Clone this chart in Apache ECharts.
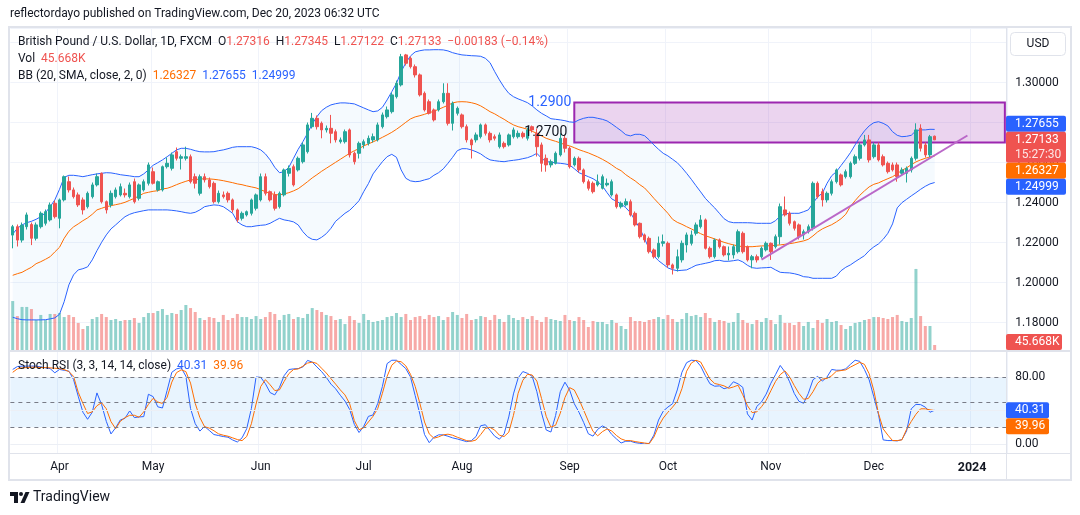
<!DOCTYPE html>
<html><head><meta charset="utf-8">
<script src="https://cdn.jsdelivr.net/npm/echarts@6/dist/echarts.min.js"></script>
<style>html,body{margin:0;padding:0;background:#fff;}#c{width:1080px;height:515px;}</style>
</head><body><div id="c"></div>
<script>
// ---------------- DATA ----------------
const firstDate = '2023-03-20';
const futureSlots = 15;
const opens = [1.2237,1.2279,1.2212,1.2279,1.2290,1.2221,1.2279,1.2296,1.2313,1.2396,
1.2321,1.2413,1.2504,1.2463,1.2438,1.2413,1.2379,1.2429,1.2488,1.2546,
1.2404,1.2388,1.2429,1.2438,1.2446,1.2429,1.2504,1.2421,1.2463,1.2496,
1.2554,1.2463,1.2463,1.2579,1.2571,1.2654,1.2621,1.2621,1.2629,1.2529,
1.2446,1.2529,1.2513,1.2496,1.2404,1.2438,1.2446,1.2413,1.2363,1.2321,
1.2338,1.2346,1.2371,1.2413,1.2529,1.2454,1.2438,1.2379,1.2438,1.2546,
1.2579,1.2563,1.2604,1.2654,1.2779,1.2821,1.2796,1.2763,1.2771,1.2754,
1.2704,1.2704,1.2763,1.2646,1.2646,1.2688,1.2696,1.2713,1.2713,1.2779,
1.2829,1.2854,1.2929,1.2988,1.3138,1.3121,1.3079,1.3038,1.2946,1.2904,
1.2863,1.2863,1.2904,1.2946,1.2796,1.2846,1.2838,1.2779,1.2713,1.2713,
1.2729,1.2788,1.2746,1.2729,1.2679,1.2696,1.2688,1.2729,1.2729,1.2746,
1.2721,1.2779,1.2746,1.2688,1.2621,1.2588,1.2596,1.2638,1.2721,1.2671,
1.2588,1.2621,1.2563,1.2504,1.2496,1.2488,1.2471,1.2488,1.2438,1.2438,
1.2379,1.2388,1.2404,1.2346,1.2296,1.2238,1.2221,1.2163,1.2129,1.2196,
1.2196,1.2088,1.2071,1.2113,1.2188,1.2196,1.2246,1.2279,1.2313,1.2171,
1.2129,1.2213,1.2179,1.2138,1.2138,1.2154,1.2246,1.2179,1.2113,1.2129,
1.2129,1.2163,1.2196,1.2179,1.2229,1.2363,1.2346,1.2304,1.2288,1.2238,
1.2254,1.2271,1.2496,1.2454,1.2413,1.2446,1.2504,1.2538,1.2529,1.2529,
1.2596,1.2621,1.2688,1.2713,1.2629,1.2688,1.2629,1.2596,1.2588,1.2588,
1.2546,1.2546,1.2563,1.2621,1.2771,1.2688,1.2638,1.27316];
const highs = [1.2288,1.2290,1.2300,1.2350,1.2300,1.2300,1.2355,1.2365,1.2400,1.2410,
1.2420,1.2535,1.2530,1.2475,1.2450,1.2425,1.2455,1.2500,1.2545,1.2550,
1.2410,1.2460,1.2475,1.2495,1.2470,1.2500,1.2520,1.2495,1.2515,1.2600,
1.2575,1.2510,1.2585,1.2625,1.2650,1.2675,1.2640,1.2679,1.2640,1.2545,
1.2540,1.2545,1.2525,1.2505,1.2460,1.2455,1.2455,1.2420,1.2370,1.2355,
1.2360,1.2420,1.2445,1.2545,1.2545,1.2460,1.2455,1.2455,1.2570,1.2585,
1.2590,1.2630,1.2700,1.2800,1.2848,1.2835,1.2805,1.2785,1.2838,1.2765,
1.2725,1.2765,1.2770,1.2655,1.2705,1.2715,1.2735,1.2745,1.2800,1.2850,
1.2880,1.2950,1.3010,1.3143,1.3143,1.3130,1.3090,1.3045,1.2955,1.2915,
1.2870,1.2915,1.2996,1.2996,1.2905,1.2880,1.2845,1.2790,1.2720,1.2750,
1.2795,1.2795,1.2755,1.2740,1.2750,1.2705,1.2745,1.2775,1.2760,1.2755,
1.2775,1.2785,1.2770,1.2700,1.2640,1.2615,1.2655,1.2746,1.2735,1.2680,
1.2630,1.2630,1.2570,1.2515,1.2505,1.2540,1.2540,1.2520,1.2515,1.2445,
1.2405,1.2420,1.2415,1.2355,1.2300,1.2245,1.2230,1.2170,1.2230,1.2240,
1.2205,1.2095,1.2165,1.2210,1.2250,1.2260,1.2300,1.2337,1.2320,1.2180,
1.2220,1.2220,1.2185,1.2180,1.2190,1.2265,1.2255,1.2185,1.2138,1.2140,
1.2180,1.2205,1.2200,1.2240,1.2395,1.2430,1.2355,1.2310,1.2295,1.2265,
1.2290,1.2505,1.2505,1.2470,1.2455,1.2515,1.2570,1.2545,1.2565,1.2605,
1.2640,1.2700,1.2738,1.2738,1.2700,1.2700,1.2640,1.2605,1.2600,1.2600,
1.2575,1.2580,1.2630,1.2796,1.2791,1.2700,1.2738,1.27345];
const lows = [1.2171,1.2180,1.2200,1.2265,1.2187,1.2210,1.2270,1.2285,1.2305,1.2320,
1.2271,1.2405,1.2450,1.2420,1.2378,1.2340,1.2370,1.2420,1.2480,1.2395,
1.2345,1.2375,1.2420,1.2430,1.2425,1.2420,1.2395,1.2410,1.2455,1.2485,
1.2490,1.2455,1.2455,1.2570,1.2560,1.2610,1.2565,1.2610,1.2495,1.2470,
1.2435,1.2500,1.2470,1.2395,1.2395,1.2420,1.2400,1.2350,1.2300,1.2310,
1.2330,1.2335,1.2360,1.2405,1.2435,1.2405,1.2360,1.2370,1.2430,1.2530,
1.2480,1.2555,1.2595,1.2645,1.2770,1.2765,1.2721,1.2750,1.2696,1.2700,
1.2695,1.2695,1.2625,1.2590,1.2620,1.2670,1.2685,1.2700,1.2705,1.2770,
1.2820,1.2845,1.2920,1.2980,1.3085,1.3070,1.3025,1.2930,1.2855,1.2840,
1.2805,1.2855,1.2895,1.2785,1.2760,1.2835,1.2770,1.2700,1.2620,1.2700,
1.2720,1.2735,1.2700,1.2710,1.2670,1.2670,1.2680,1.2720,1.2720,1.2720,
1.2710,1.2750,1.2630,1.2554,1.2554,1.2575,1.2590,1.2630,1.2650,1.2570,
1.2580,1.2550,1.2495,1.2460,1.2445,1.2480,1.2465,1.2480,1.2430,1.2370,
1.2370,1.2380,1.2330,1.2280,1.2220,1.2200,1.2145,1.2120,1.2120,1.2180,
1.2075,1.2040,1.2055,1.2100,1.2150,1.2185,1.2235,1.2270,1.2165,1.2120,
1.2120,1.2170,1.2130,1.2110,1.2120,1.2145,1.2145,1.2105,1.2071,1.2100,
1.2120,1.2155,1.2113,1.2170,1.2190,1.2330,1.2285,1.2260,1.2215,1.2215,
1.2245,1.2260,1.2420,1.2380,1.2400,1.2435,1.2495,1.2480,1.2520,1.2520,
1.2588,1.2610,1.2680,1.2600,1.2620,1.2605,1.2580,1.2545,1.2555,1.2504,
1.2535,1.2500,1.2550,1.2610,1.2655,1.2625,1.2625,1.27122];
const closes = [1.2279,1.2212,1.2287,1.2338,1.2221,1.2288,1.2346,1.2354,1.2388,1.2329,
1.2413,1.2529,1.2463,1.2429,1.2388,1.2363,1.2446,1.2488,1.2529,1.2404,
1.2363,1.2446,1.2463,1.2479,1.2438,1.2488,1.2404,1.2488,1.2504,1.2588,
1.2496,1.2504,1.2579,1.2596,1.2638,1.2621,1.2629,1.2629,1.2504,1.2496,
1.2529,1.2513,1.2479,1.2404,1.2446,1.2429,1.2413,1.2363,1.2313,1.2346,
1.2354,1.2413,1.2438,1.2529,1.2446,1.2413,1.2371,1.2446,1.2563,1.2571,
1.2488,1.2621,1.2688,1.2788,1.2821,1.2779,1.2763,1.2771,1.2746,1.2713,
1.2713,1.2754,1.2638,1.2604,1.2696,1.2704,1.2721,1.2729,1.2788,1.2838,
1.2863,1.2938,1.2996,1.3129,1.3096,1.3079,1.3038,1.2938,1.2863,1.2846,
1.2813,1.2904,1.2946,1.2796,1.2896,1.2871,1.2779,1.2713,1.2688,1.2738,
1.2788,1.2746,1.2713,1.2721,1.2738,1.2679,1.2738,1.2763,1.2746,1.2729,
1.2763,1.2763,1.2679,1.2596,1.2588,1.2604,1.2646,1.2721,1.2671,1.2579,
1.2621,1.2563,1.2504,1.2471,1.2454,1.2504,1.2529,1.2496,1.2504,1.2379,
1.2396,1.2404,1.2338,1.2288,1.2229,1.2213,1.2154,1.2129,1.2196,1.2204,
1.2088,1.2071,1.2129,1.2196,1.2238,1.2238,1.2288,1.2313,1.2171,1.2129,
1.2213,1.2179,1.2138,1.2146,1.2179,1.2254,1.2154,1.2113,1.2129,1.2113,
1.2171,1.2196,1.2154,1.2229,1.2379,1.2338,1.2296,1.2271,1.2229,1.2254,
1.2279,1.2496,1.2429,1.2413,1.2446,1.2504,1.2563,1.2488,1.2554,1.2596,
1.2629,1.2688,1.2713,1.2613,1.2688,1.2613,1.2588,1.2554,1.2563,1.2529,
1.2563,1.2571,1.2621,1.2763,1.2671,1.2638,1.2729,1.27133];
const volumesK = [447,310,393,393,374,274,320,274,329,329,
338,301,320,301,247,192,219,283,301,329,
301,274,283,265,274,274,292,247,301,338,
338,356,374,320,338,329,365,411,383,347,
292,274,301,292,256,320,274,292,329,301,
301,283,310,283,301,347,329,274,320,329,
283,301,292,329,383,365,347,320,310,274,
283,237,310,274,247,329,274,256,265,274,
301,310,338,301,329,274,301,310,283,320,
301,310,274,301,347,320,292,329,274,283,
310,301,274,320,283,256,320,292,274,301,
283,310,274,256,301,283,274,265,320,274,
265,301,274,210,265,256,256,237,274,247,
219,192,301,265,265,256,274,283,301,283,
320,283,256,283,338,310,320,301,338,292,
256,274,265,247,256,338,274,247,237,274,
256,292,274,237,320,247,247,228,256,219,
256,201,274,247,283,256,265,228,192,219,
247,256,274,283,301,301,292,283,301,320,
265,256,292,740,310,219,219,45.668];
const bbUpper = [1.2242,1.2271,1.2288,1.2299,1.2306,1.2316,1.2329,1.2349,1.2379,1.2413,
1.2466,1.2526,1.2536,1.2536,1.2533,1.2529,1.2534,1.2539,1.2543,1.2546,
1.2549,1.2548,1.2544,1.2539,1.2536,1.2533,1.2529,1.2529,1.2543,1.2563,
1.2586,1.2599,1.2613,1.2629,1.2646,1.2663,1.2671,1.2671,1.2666,1.2659,
1.2654,1.2653,1.2653,1.2654,1.2659,1.2663,1.2669,1.2676,1.2679,1.2679,
1.2679,1.2679,1.2673,1.2663,1.2643,1.2613,1.2576,1.2549,1.2554,1.2576,
1.2621,1.2666,1.2704,1.2746,1.2793,1.2829,1.2859,1.2876,1.2888,1.2894,
1.2898,1.2898,1.2896,1.2893,1.2883,1.2873,1.2863,1.2854,1.2858,1.2876,
1.2913,1.2954,1.2996,1.3054,1.3099,1.3133,1.3153,1.3159,1.3163,1.3163,
1.3164,1.3164,1.3163,1.3158,1.3149,1.3143,1.3138,1.3136,1.3134,1.3133,
1.3131,1.3121,1.3099,1.3054,1.3013,1.2976,1.2946,1.2929,1.2918,1.2909,
1.2899,1.2883,1.2863,1.2846,1.2833,1.2819,1.2816,1.2813,1.2809,1.2803,
1.2801,1.2813,1.2821,1.2826,1.2826,1.2821,1.2816,1.2808,1.2793,1.2776,
1.2759,1.2739,1.2733,1.2741,1.2741,1.2734,1.2713,1.2688,1.2666,1.2646,
1.2633,1.2616,1.2599,1.2574,1.2546,1.2516,1.2484,1.2453,1.2421,1.2396,
1.2373,1.2346,1.2319,1.2304,1.2299,1.2299,1.2299,1.2299,1.2298,1.2296,
1.2296,1.2296,1.2296,1.2309,1.2333,1.2343,1.2346,1.2346,1.2346,1.2354,
1.2363,1.2396,1.2429,1.2446,1.2496,1.2534,1.2554,1.2585,1.2616,1.2649,
1.2688,1.2726,1.2758,1.2783,1.2799,1.2804,1.2796,1.2783,1.2754,1.2736,
1.2729,1.2731,1.2736,1.2759,1.2763,1.2763,1.2766,1.27655];
const bbMiddle = [1.2036,1.2044,1.2051,1.2064,1.2076,1.2094,1.2104,1.2116,1.2129,1.2153,
1.2176,1.2221,1.2256,1.2278,1.2293,1.2309,1.2323,1.2341,1.2363,1.2371,
1.2379,1.2384,1.2389,1.2394,1.2401,1.2411,1.2421,1.2433,1.2446,1.2451,
1.2456,1.2459,1.2468,1.2471,1.2479,1.2489,1.2498,1.2506,1.2513,1.2514,
1.2518,1.2518,1.2518,1.2516,1.2513,1.2509,1.2504,1.2499,1.2493,1.2489,
1.2483,1.2478,1.2473,1.2464,1.2454,1.2446,1.2440,1.2438,1.2443,1.2449,
1.2458,1.2469,1.2486,1.2504,1.2523,1.2539,1.2556,1.2571,1.2586,1.2601,
1.2616,1.2631,1.2646,1.2659,1.2669,1.2683,1.2693,1.2703,1.2714,1.2726,
1.2738,1.2751,1.2766,1.2783,1.2801,1.2818,1.2828,1.2834,1.2841,1.2849,
1.2856,1.2866,1.2876,1.2886,1.2898,1.2903,1.2904,1.2903,1.2899,1.2893,
1.2883,1.2869,1.2854,1.2843,1.2829,1.2816,1.2801,1.2788,1.2779,1.2773,
1.2766,1.2756,1.2746,1.2733,1.2721,1.2713,1.2706,1.2698,1.2689,1.2683,
1.2674,1.2664,1.2656,1.2648,1.2638,1.2628,1.2616,1.2603,1.2588,1.2571,
1.2559,1.2539,1.2523,1.2508,1.2489,1.2473,1.2448,1.2421,1.2396,1.2371,
1.2346,1.2316,1.2301,1.2291,1.2279,1.2268,1.2256,1.2244,1.2234,1.2226,
1.2218,1.2209,1.2201,1.2194,1.2188,1.2183,1.2179,1.2179,1.2179,1.2181,
1.2183,1.2183,1.2184,1.2186,1.2188,1.2191,1.2194,1.2198,1.2203,1.2208,
1.2216,1.2233,1.2253,1.2268,1.2279,1.2289,1.2303,1.2319,1.2341,1.2381,
1.2409,1.2436,1.2458,1.2478,1.2491,1.2498,1.2509,1.2519,1.2529,1.2544,
1.2561,1.2573,1.2589,1.2603,1.2613,1.2621,1.2628,1.26327];
const bbLower = [1.1826,1.1819,1.1814,1.1813,1.1813,1.1813,1.1813,1.1814,1.1818,1.1823,
1.1841,1.1904,1.1988,1.2038,1.2063,1.2069,1.2078,1.2113,1.2159,1.2201,
1.2238,1.2268,1.2288,1.2309,1.2329,1.2341,1.2349,1.2354,1.2359,1.2363,
1.2363,1.2363,1.2363,1.2363,1.2361,1.2358,1.2354,1.2349,1.2346,1.2351,
1.2363,1.2379,1.2384,1.2388,1.2386,1.2379,1.2363,1.2346,1.2304,1.2288,
1.2279,1.2279,1.2283,1.2286,1.2288,1.2296,1.2309,1.2321,1.2313,1.2309,
1.2303,1.2288,1.2254,1.2229,1.2216,1.2213,1.2226,1.2244,1.2271,1.2306,
1.2326,1.2346,1.2361,1.2384,1.2409,1.2454,1.2494,1.2543,1.2574,1.2604,
1.2629,1.2641,1.2626,1.2563,1.2521,1.2508,1.2504,1.2506,1.2513,1.2519,
1.2536,1.2549,1.2568,1.2596,1.2626,1.2659,1.2669,1.2669,1.2663,1.2654,
1.2643,1.2626,1.2613,1.2609,1.2606,1.2604,1.2608,1.2611,1.2614,1.2619,
1.2624,1.2633,1.2646,1.2621,1.2604,1.2602,1.2598,1.2596,1.2593,1.2588,
1.2569,1.2549,1.2539,1.2529,1.2519,1.2504,1.2483,1.2449,1.2418,1.2406,
1.2393,1.2374,1.2349,1.2309,1.2271,1.2219,1.2169,1.2133,1.2109,1.2091,
1.2073,1.2064,1.2059,1.2061,1.2063,1.2074,1.2086,1.2091,1.2096,1.2101,
1.2109,1.2111,1.2106,1.2106,1.2109,1.2113,1.2103,1.2086,1.2074,1.2071,
1.2073,1.2074,1.2076,1.2063,1.2051,1.2049,1.2048,1.2044,1.2038,1.2029,
1.2027,1.2021,1.2021,1.2021,1.2021,1.2021,1.2032,1.2059,1.2076,1.2088,
1.2104,1.2119,1.2134,1.2159,1.2178,1.2193,1.2216,1.2246,1.2293,1.2373,
1.2399,1.2416,1.2433,1.2449,1.2466,1.2481,1.2493,1.24999];
const stochK = [89,92.5,93,93,93,93,92,91,90,85,
89,88,87,77,57,38,29.5,38,61,47,
27,12,19.4,28.7,30.7,39.6,31.5,32.3,32.7,59.4,
56.6,44.4,43,64,85.6,89.7,91,81,42.4,24.2,
15.4,21,16.2,11.3,10.1,8.9,8.1,4.8,2.4,7.3,
18.2,42.4,80,79.6,72,61.4,58.6,67.5,81.6,88.9,
89.7,90,92,99.8,97.8,92,86.5,79.6,71.5,65.9,
58.2,51.3,41.2,23.4,13.7,21,33,34.7,48.5,68.7,
96,100,100,95,90,80,57.8,35.6,11.3,1.6,
8,10.9,10.9,9.3,7.3,6,4.4,2.8,4,8.9,
21.8,23,16.2,9.3,5.7,12.1,32.3,59.8,78.8,86.5,
84.4,80.8,62.4,37.1,16.7,14.3,33.9,62.4,73.8,64.5,
48.1,37.9,25.7,12.2,9.4,17.5,21.6,18.8,11.4,6.1,
1.2,3.3,3.3,1.6,0.8,0,0.8,10.6,28.6,39.2,
44.1,48.1,64.5,85.7,97.1,100,99.6,93,81.6,71.8,
69,69.4,66,67.7,74.3,71.8,67.7,35.9,28.6,44.9,
50.2,59.6,72.6,82.8,93.8,86.1,74.3,60.4,51,48.6,
60.4,76.7,80.8,75.1,80,89,88.1,88.1,89.8,95.1,
100,98.7,88.9,76.7,56.3,35.1,4.9,4.1,4.1,3.7,
5.3,15.5,42,47.3,47,44,37.9,40.31];
const stochD = [85.6,89.7,90.9,91.3,91.7,91.7,91.3,91.3,90.9,90.5,
90.1,88.9,86.5,80.8,61.8,48.5,36.4,38.4,45.7,49.3,
42,26.7,18.2,27.1,31.5,34.3,34.3,31.9,38.4,47.3,
54.5,50.1,48.5,55.8,73.9,85.2,88.5,86.5,72.7,48.5,
31.5,20.6,19,15.8,12.1,10.5,9.3,7.3,5.3,4,
8.9,24.2,47.7,68.7,76.8,70.7,63.8,64.6,74.7,84,
88.9,89.7,92.9,96.6,97.8,96.2,90.5,84.8,78,71.5,
64.6,58.6,48.1,27.9,17,19.4,26.3,33.1,42.4,60.6,
80.8,94.1,99,98.2,93.3,83.2,68.7,48.5,26.3,12.1,
6.9,8.5,10.9,11.7,10.5,8.1,6.1,4,3.2,4.8,
11.3,18.6,19.8,16.6,10.5,8.9,14.1,34.3,60.6,76,
83.2,82.4,75.1,54.3,33,20,22.4,36.7,55.5,67.3,
64.5,53.4,40.4,27.3,15.1,9.8,14.7,18,15.5,10.2,
6.1,4.1,4.1,2.9,2,1.2,0.4,8.2,21.2,31,
37.9,44.1,51,66.1,86.9,96.7,100,97.9,87.7,77.5,
72.2,71,69.4,66.5,68.1,70.2,58.8,45.7,37.5,38.4,
44.5,52.2,63.6,74.7,82.8,87.3,80.4,69.8,60.4,53.4,
54.3,62.4,72.6,77.5,78.3,81.6,86.9,87.7,88.5,91.8,
94.7,97.5,95.1,84,64,36.3,18,10.6,4.1,4.1,
4.9,17.5,26.9,35.5,42,42,40.8,39.96];
const zoneTop = 1.29, zoneBottom = 1.27, zoneStartIndex = 120;
const zoneLabels = ['1.2900','1.2700'];
const trendStart = [160, 1.2114], trendEnd = [204, 1.2735];
const stochLevels = [80, 50, 20];
const stochGrid = [0, 40, 80];
const stochAxisLabels = [0, 80];
const priceBoxes = [
  {v:1.27655, c:'#2962ff', t:['1.27655']},
  {v:1.27133, c:'#ef5350', t:['1.27133','15:27:30'], fixed:true},
  {v:1.26327, c:'#ff6d00', t:['1.26327']},
  {v:1.24999, c:'#2962ff', t:['1.24999']}
];
const volumeBox = {v:45.668, c:'#ef5350', t:'45.668K'};
const stochBoxes = [{v:40.31,c:'#2962ff',t:'40.31',fixed:true},{v:39.96,c:'#ff6d00',t:'39.96'}];
const monthNames = ['Jan','Feb','Mar','Apr','May','Jun','Jul','Aug','Sep','Oct','Nov','Dec'];

// ---------------- BUILD ----------------
const nData = closes.length;
const N = nData + futureSlots;
const dates = [];
{ const d = new Date(firstDate + 'T00:00:00Z');
  while (dates.length < N) { const wd = d.getUTCDay(); if (wd !== 0 && wd !== 6) dates.push(new Date(d.getTime())); d.setUTCDate(d.getUTCDate() + 1); } }
const cats = dates.map(x => x.toISOString().slice(0,10));
const monthStart = new Set();
for (let i = 1; i < N; i++) if (dates[i].getUTCMonth() !== dates[i-1].getUTCMonth()) monthStart.add(i);
const labelOf = i => { const m = dates[i].getUTCMonth(); return m === 0 ? '{y|' + dates[i].getUTCFullYear() + '}' : monthNames[m]; };
const isMS = (i) => monthStart.has(i);

const candleData = closes.map((c,i) => [opens[i], c, lows[i], highs[i]]);
const volData = volumesK.map((v,i) => ({value:v, itemStyle:{color: closes[i] >= opens[i] ? 'rgba(38,166,154,0.5)' : 'rgba(239,83,80,0.5)'}}));
const bbDiff = bbUpper.map((u,i) => +(u - bbLower[i]).toFixed(5));

const FONT = 'Roboto, "Noto Sans", sans-serif';
const FS = '12px ';
const TXT = '#131722';
const GRIDC = '#f0f3fa';
const LEFT = 10.36, WIDTH = 4.68 * N;

const chart = echarts.init(document.getElementById('c'), null, {renderer:'canvas'});
const option = {
  animation:false,
  textStyle:{fontFamily:FONT},
  grid:[
    {left:LEFT, width:WIDTH, top:28, height:322},
    {left:LEFT, width:WIDTH, top:250, height:100},
    {left:LEFT, width:WIDTH, top:352, height:101}
  ],
  xAxis:[
    {type:'category', gridIndex:0, data:cats, boundaryGap:true, axisLine:{show:false}, axisTick:{show:false}, axisLabel:{show:false},
     splitLine:{show:true, interval:(i)=>isMS(i), lineStyle:{color:GRIDC, width:1}}},
    {type:'category', gridIndex:1, data:cats, boundaryGap:true, show:false},
    {type:'category', gridIndex:2, data:cats, boundaryGap:true, axisLine:{show:false}, axisTick:{show:false},
     axisLabel:{show:true, interval:(i)=>isMS(i), formatter:(v,i)=>labelOf(i), color:TXT, fontSize:12, margin:8, fontFamily:FONT,
       rich:{y:{fontSize:12.5, fontWeight:'bold', color:TXT, fontFamily:FONT}}},
     splitLine:{show:true, interval:(i)=>isMS(i), lineStyle:{color:GRIDC, width:1}}}
  ],
  yAxis:[
    {type:'value', gridIndex:0, position:'right', min:1.16625, max:1.32725, splitNumber:8, scale:true,
     axisLine:{show:false}, axisTick:{show:false},
     axisLabel:{show:true, showMinLabel:false, showMaxLabel:false, color:TXT, fontSize:12, margin:8, align:'left',
       formatter:(v)=> v > 1.31 ? '' : v.toFixed(5)},
     splitLine:{show:true, lineStyle:{color:GRIDC, width:1}}},
    {type:'value', gridIndex:1, min:0, max:913, show:false},
    {type:'value', gridIndex:2, position:'right', min:-10.75, max:109.85,
     axisLine:{show:false}, axisTick:{show:false}, splitLine:{show:false},
     axisLabel:{show:true, customValues:stochAxisLabels, color:TXT, fontSize:12, margin:8, align:'left', formatter:(v)=>v.toFixed(2)}}
  ],
  series:[
    {type:'line', name:'bbBase', xAxisIndex:0, yAxisIndex:0, data:bbLower, stack:'bb', symbol:'none', lineStyle:{opacity:0}, silent:true, z:1},
    {type:'line', name:'bbFill', xAxisIndex:0, yAxisIndex:0, data:bbDiff, stack:'bb', symbol:'none', lineStyle:{opacity:0},
     areaStyle:{color:'rgba(33,150,243,0.06)'}, silent:true, z:1},
    {type:'bar', name:'vol', xAxisIndex:1, yAxisIndex:1, data:volData, barWidth:3, z:2},
    {type:'line', name:'upper', xAxisIndex:0, yAxisIndex:0, data:bbUpper, symbol:'none', lineStyle:{color:'#2962ff', width:1}, z:3},
    {type:'line', name:'middle', xAxisIndex:0, yAxisIndex:0, data:bbMiddle, symbol:'none', lineStyle:{color:'#ff6d00', width:1}, z:3},
    {type:'line', name:'lower', xAxisIndex:0, yAxisIndex:0, data:bbLower, symbol:'none', lineStyle:{color:'#2962ff', width:1}, z:3},
    {type:'candlestick', name:'GBPUSD', xAxisIndex:0, yAxisIndex:0, data:candleData, barWidth:3, z:4,
     itemStyle:{color:'#26a69a', color0:'#ef5350', borderColor:'#26a69a', borderColor0:'#ef5350', borderWidth:1},
     markArea:{silent:true, z:2, itemStyle:{color:'rgba(156,39,176,0.2)', borderColor:'#9c27b0', borderWidth:2},
       data:[[{coord:[cats[zoneStartIndex], zoneTop]},{coord:[cats[N-1], zoneBottom]}]]},
     markLine:{silent:true, symbol:['none','none'], lineStyle:{color:'#ba68c8', width:2, type:'solid'}, label:{show:false},
       data:[[{coord:[cats[trendStart[0]], trendStart[1]]},{coord:[cats[trendEnd[0]], trendEnd[1]]}]]},
     markPoint:{silent:true, symbol:'circle', symbolSize:0,
       data:[
        {coord:[cats[zoneStartIndex], zoneTop], label:{show:true, formatter:zoneLabels[0], position:'left', distance:3, color:'#2962ff', fontSize:14, fontFamily:FONT}},
        {coord:[cats[zoneStartIndex], zoneBottom], label:{show:true, formatter:zoneLabels[1], position:'left', distance:7, offset:[0,-10], color:TXT, fontSize:14, fontFamily:FONT}}
       ]}
    },
    {type:'line', name:'K', xAxisIndex:2, yAxisIndex:2, data:stochK, symbol:'none', lineStyle:{color:'#2962ff', width:1}, z:4,
     markArea:{silent:true, itemStyle:{color:'rgba(33,150,243,0.1)'}, data:[[{yAxis:80},{yAxis:20}]]},
     markLine:{silent:true, symbol:['none','none'], label:{show:false},
       data: stochGrid.map(v=>({yAxis:v, lineStyle:{color:'#eceff5', width:1, type:'solid'}})).concat(
             stochLevels.map(v=>({yAxis:v, lineStyle:{color:'#787b86', width:1, type:[4,4]}})))}
    },
    {type:'line', name:'D', xAxisIndex:2, yAxisIndex:2, data:stochD, symbol:'none', lineStyle:{color:'#ff6d00', width:1}, z:4}
  ]
};
chart.setOption(option);

// ---------------- overlays (texts, axis value boxes, frame) ----------------
function boxGroup(x, top, w, h, color, lines, z){
  const els = [{type:'rect', shape:{x:x, y:top, width:w, height:h, r:2}, style:{fill:color}, z:z}];
  lines.forEach((t,k)=>{
    els.push({type:'text', x:1015, y:top + 8 + k*15, z:z+1,
      style:{text:t, fill: k===0 ? '#ffffff' : 'rgba(255,255,255,0.85)', font:'12px ' + FONT, textVerticalAlign:'middle', verticalAlign:'middle', textAlign:'left', align:'left'}});
  });
  return els;
}
function stackBoxes(items, yOf, singleH){
  const placed = items.map(b => ({...b, y:yOf(b.v), h: (Array.isArray(b.t)? b.t.length:1) === 1 ? singleH : singleH + 15}));
  const fi = placed.findIndex(b => b.fixed);
  placed[fi].top = placed[fi].y - singleH/2;
  for (let k = fi-1; k >= 0; k--) { const nb = placed[k+1]; placed[k].top = Math.min(placed[k].y - singleH/2, nb.top - placed[k].h); }
  for (let k = fi+1; k < placed.length; k++) { const pb = placed[k-1]; placed[k].top = Math.max(placed[k].y - singleH/2, pb.top + pb.h); }
  return placed;
}
const g = [];
g.push({type:'rect', shape:{x:9, y:27, width:1062, height:453}, style:{fill:'none', stroke:'#e0e3eb', lineWidth:2}, z:50});
g.push({type:'line', shape:{x1:1006.5, y1:27, x2:1006.5, y2:480}, style:{stroke:'#e0e3eb', lineWidth:1}, z:50});
g.push({type:'line', shape:{x1:9, y1:351, x2:1071, y2:351}, style:{stroke:'#e0e3eb', lineWidth:2}, z:50});
g.push({type:'line', shape:{x1:9, y1:453.5, x2:1071, y2:453.5}, style:{stroke:'#e0e3eb', lineWidth:1}, z:50});
g.push({type:'text', x:10, y:14, z:60, style:{text:'reflectordayo published on TradingView.com, Dec 20, 2023 06:32 UTC', fill:TXT, font:FS + FONT, textVerticalAlign:'middle', verticalAlign:'middle'}});
const R = '#ef5350';
g.push({type:'text', x:18, y:42, z:60, style:{
  text:'{a|British Pound / U.S. Dollar, 1D, FXCM}  {a|O}{r|1.27316}  {a|H}{r|1.27345}  {a|L}{r|1.27122}  {a|C}{r|1.27133}  {r|−0.00183 (−0.14%)}',
  rich:{a:{fill:TXT, font:FS + FONT}, r:{fill:R, font:FS + FONT}}, font:FS + FONT, textVerticalAlign:'middle', verticalAlign:'middle'}});
g.push({type:'text', x:18, y:59, z:60, style:{text:'{a|Vol}  {r|45.668K}', rich:{a:{fill:TXT, font:FS + FONT}, r:{fill:R, font:FS + FONT}}, font:FS + FONT, textVerticalAlign:'middle', verticalAlign:'middle'}});
g.push({type:'text', x:18, y:76, z:60, style:{text:'{a|BB (20, SMA, close, 2, 0)}  {o|1.26327}  {b|1.27655}  {b|1.24999}', rich:{a:{fill:TXT, font:FS + FONT}, o:{fill:'#ff6d00', font:FS + FONT}, b:{fill:'#2962ff', font:FS + FONT}}, font:FS + FONT, textVerticalAlign:'middle', verticalAlign:'middle'}});
g.push({type:'text', x:18, y:366, z:60, style:{text:'{a|Stoch RSI (3, 3, 14, 14, close)}  {b|40.31}  {o|39.96}', rich:{a:{fill:TXT, font:FS + FONT}, o:{fill:'#ff6d00', font:FS + FONT}, b:{fill:'#2962ff', font:FS + FONT}}, font:FS + FONT, textVerticalAlign:'middle', verticalAlign:'middle'}});
g.push({type:'rect', shape:{x:1010.5, y:32.5, width:55, height:23, r:4}, style:{fill:'#fff', stroke:'#e0e3eb', lineWidth:1}, z:60});
g.push({type:'text', x:1038, y:44, z:61, style:{text:'USD', fill:TXT, font:'12px ' + FONT, textAlign:'center', align:'center', textVerticalAlign:'middle', verticalAlign:'middle'}});
g.push({type:'rect', shape:{x:10, y:492, width:8, height:4}, style:{fill:TXT}, z:60});
g.push({type:'rect', shape:{x:14, y:492, width:4, height:11}, style:{fill:TXT}, z:60});
g.push({type:'circle', shape:{cx:21, cy:494, r:2}, style:{fill:TXT}, z:60});
g.push({type:'polygon', shape:{points:[[20.5,503],[25.5,492],[29.5,492],[24.5,503]]}, style:{fill:TXT}, z:60});
g.push({type:'text', x:33, y:497.5, z:60, style:{text:'TradingView', fill:TXT, font:'14px ' + FONT, textVerticalAlign:'middle', verticalAlign:'middle'}});

const yP = v => chart.convertToPixel({yAxisIndex:0}, v);
stackBoxes(priceBoxes, yP, 16).forEach(b => g.push(...boxGroup(1006, b.top, 60, b.h, b.c, b.t, 70)));
{ const yv = chart.convertToPixel({yAxisIndex:1}, volumeBox.v); let top = Math.min(yv - 8, 350 - 16);
  g.push(...boxGroup(1006, top, 56, 16, volumeBox.c, [volumeBox.t], 70)); }
const yS = v => chart.convertToPixel({yAxisIndex:2}, v);
stackBoxes(stochBoxes.map(b=>({...b, t:[b.t]})), yS, 16).forEach(b => g.push(...boxGroup(1006, b.top, 43, b.h, b.c, b.t, 70)));

chart.setOption({graphic:{elements:g}});
</script></body></html>
